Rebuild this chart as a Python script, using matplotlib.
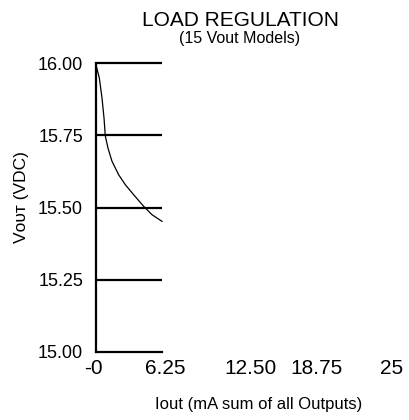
import numpy as np
import matplotlib
matplotlib.use('Agg')
import matplotlib.pyplot as plt

plt.rcParams['font.family'] = ['Liberation Sans', 'DejaVu Sans']

# load regulation curve (15 Vout models)
iout = [0, 0.36, 0.61, 0.80, 0.92, 1.17, 1.55, 2.18, 2.80, 3.59, 4.53, 5.31, 6.25]
vout = [16.00, 15.948, 15.879, 15.810, 15.748, 15.706, 15.660, 15.613, 15.579, 15.544, 15.504, 15.475, 15.452]

yticks = [15.00, 15.25, 15.50, 15.75, 16.00]
ytick_labels = ['15.00', '15.25', '15.50', '15.75', '16.00']
xtick_labels = ['-0', '6.25', '12.50', '18.75', '25']

W, H = 409, 420
fig = plt.figure(figsize=(W / 100, H / 100), dpi=100)

# narrow plot box, as in the original
ax_l, ax_r, ax_t, ax_b = 95.5, 162, 63, 352
ax = fig.add_axes([ax_l / W, 1 - ax_b / H, (ax_r - ax_l) / W, (ax_b - ax_t) / H])
ax.set_xlim(0, 6.25)
ax.set_ylim(15, 16)

ax.plot(iout, vout, color='black', lw=0.9, clip_on=False)

# horizontal grid lines
ax.hlines(yticks[1:], 0.1, 6.25, color='black', lw=1.6, clip_on=False)

for s in ['top', 'right']:
    ax.spines[s].set_visible(False)
ax.spines['left'].set_linewidth(1.6)
ax.spines['bottom'].set_linewidth(1.6)

ax.set_yticks(yticks)
ax.set_yticklabels(ytick_labels, fontsize=13)
ax.tick_params(axis='y', length=0, pad=9)
ax.set_xticks([])

# x labels are spread beyond the plot box in the original
xlabel_px = [93, 165, 250, 316, 392]
for lab, px in zip(xtick_labels, xlabel_px):
    fig.text(px / W, 1 - 368.5 / H, lab, ha='center', va='center', fontsize=15)

fig.text(259 / W, 1 - 405 / H, 'Iout (mA sum of all Outputs)', ha='center', va='center', fontsize=12)
fig.text(21.5 / W, 1 - 197.5 / H, 'V\u1d0f\u1d1c\u1d1b (VDC)', ha='center', va='center',
         rotation=90, fontsize=12.5)

fig.text(240 / W, 1 - 20.5 / H, 'LOAD REGULATION', ha='center', va='center', fontsize=15)
fig.text(240 / W, 1 - 38.5 / H, '(15 Vout Models)', ha='center', va='center', fontsize=11.5)

fig.savefig('out.png', dpi=100)
